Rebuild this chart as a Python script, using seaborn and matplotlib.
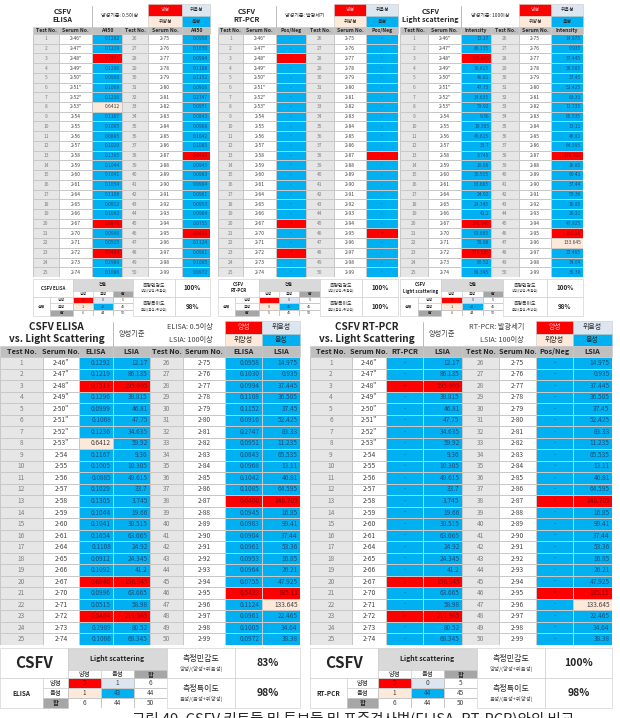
import numpy as np
import seaborn as sns
import matplotlib
matplotlib.use("Agg")
import matplotlib.pyplot as plt
from matplotlib.colors import ListedColormap
from matplotlib.patches import Rectangle

# ---- data ----
test_no_1 = list(range(1, 26))
test_no_2 = list(range(26, 51))
serum_1 = ['2-46"', '2-47"', '2-48"', '2-49"', '2-50"', '2-51"', '2-52"', '2-53"',
           '2-54', '2-55', '2-56', '2-57', '2-58', '2-59', '2-60', '2-61',
           '2-64', '2-65', '2-66', '2-67', '2-70', '2-71', '2-72', '2-73', '2-74']
serum_2 = ['2-75', '2-76', '2-77', '2-78', '2-79', '2-80', '2-81', '2-82', '2-83',
           '2-84', '2-85', '2-86', '2-87', '2-88', '2-89', '2-90', '2-91', '2-92',
           '2-93', '2-94', '2-95', '2-96', '2-97', '2-98', '2-99']

elisa_1 = [0.1292, 0.1219, 0.7511, 0.1296, 0.0999, 0.1068, 0.1236, 0.6412, 0.1167,
           0.1005, 0.0885, 0.1029, 0.1305, 0.1044, 0.1041, 0.1654, 0.1108, 0.0912,
           0.1092, 0.6846, 0.0996, 0.0515, 0.5464, 0.2989, 0.1086]
elisa_2 = [0.0958, 0.1030, 0.0994, 0.1108, 0.1152, 0.0916, 0.2747, 0.0951, 0.0843,
           0.0968, 0.1042, 0.1085, 0.6400, 0.0945, 0.0983, 0.0904, 0.0961, 0.0953,
           0.0964, 0.0755, 0.5433, 0.1124, 0.0961, 0.1005, 0.0972]
lsia_1 = [12.17, 86.135, 195.665, 38.815, 46.81, 47.75, 34.635, 59.92, 9.36, 10.305,
          49.615, 33.7, 3.745, 19.66, 30.515, 63.665, 24.92, 24.345, 41.2, 156.345,
          63.665, 58.98, 211.585, 80.52, 68.345]
lsia_2 = [14.975, 0.935, 37.445, 36.505, 37.45, 52.425, 83.33, 11.235, 65.535, 13.11,
          46.81, 64.595, 146.705, 16.85, 99.41, 37.44, 53.36, 16.85, 26.21, 47.925,
          185.11, 133.645, 22.465, 34.64, 38.38]

# P = 양성, N = 음성, B = 위양성
elisa_call_1 = "NNPNNNNBNNNNNNNNNNNPNNPNN"
elisa_call_2 = "NNNNNNNNNNNNPNNNNNNNPNNNN"
pcr_call_1 = "NNPNNNNNNNNNNNNNNNNPNNPNN"
pcr_call_2 = "NNNNNNNNNNNNPNNNNNNNPNNNN"
lsia_call_1 = "NNPNNNNNNNNNNNNNNNNPNNPNN"
lsia_call_2 = "NNNNNNNNNNNNPNNNNNNNPBNNN"

sum_elisa = [[5, 0, 5], [1, 44, 45], [6, 44, 50]]
sum_pcr = [[5, 0, 5], [0, 45, 45], [5, 45, 50]]
sum_ls = [[5, 0, 5], [1, 44, 45], [6, 44, 50]]
sum_elisa_ls = [[5, 1, 6], [1, 43, 44], [6, 44, 50]]
sum_pcr_ls = [[5, 0, 5], [1, 44, 45], [6, 44, 50]]
sens_spec = {"elisa": ("100%", "98%"), "pcr": ("100%", "100%"), "ls": ("100%", "98%"),
             "elisa_ls": ("83%", "98%"), "pcr_ls": ("100%", "98%")}

# ---- styling ----
sns.set_style("white")
plt.rcParams['font.family'] = ['Noto Sans CJK KR', 'DejaVu Sans']

PAL = {'W': '#FFFFFF', 'T': '#E6E6E6', 'N': '#00B0F0', 'P': '#FF0000',
       'B': '#FDE9D9', 'L': '#DCE6F1', 'H': '#BFBFBF', 'D': '#A6A6A6'}
TXT = {'N': '#1F4E79', 'P': '#8B0000', 'T': '#7F7F7F'}
KEYS = list(PAL)
CMAP = ListedColormap(list(PAL.values()))
GRID = '#C8C8C8'

W, H = 620, 718
fig = plt.figure(figsize=(6.2, 7.18), dpi=100)
bg = fig.add_axes([0, 0, 1, 1])
bg.set_xlim(0, W)
bg.set_ylim(H, 0)
bg.axis('off')


def px_axes(x0, y0, x1, y1):
    return fig.add_axes([x0 / W, 1 - y1 / H, (x1 - x0) / W, (y1 - y0) / H])


def box(x0, y0, x1, y1, fc='white', text='', fs=4, bold=False, color='#262626', ec=GRID):
    bg.add_patch(Rectangle((x0, y0), x1 - x0, y1 - y0, fc=fc, ec=ec, lw=0.4))
    if text:
        bg.text((x0 + x1) / 2, (y0 + y1) / 2, text, ha='center', va='center', fontsize=fs,
                fontweight='bold' if bold else 'normal', color=color, linespacing=1.25)


def grid(x0, y0, x1, y1, calls, labels, fs, align='center'):
    ax = px_axes(x0, y0, x1, y1)
    codes = np.array([[KEYS.index(c) for c in row] for row in calls])
    sns.heatmap(codes, ax=ax, cmap=CMAP, vmin=-0.5, vmax=len(KEYS) - 0.5, cbar=False,
                annot=np.array(labels, dtype=object), fmt='', annot_kws={'fontsize': fs},
                linewidths=0.4, linecolor=GRID, xticklabels=False, yticklabels=False)
    ncol = codes.shape[1]
    for t in ax.texts:
        x, y = t.get_position()
        c = calls[int(y)][int(x)]
        t.set_color(TXT.get(c, '#404040'))
        if align == 'right':
            t.set_ha('right')
            t.set_x(int(x) + 0.94)
    return ax


def column(x0, x1, y0, y1, calls, labels, fs, align='center'):
    grid(x0, y0, x1, y1, [[c] for c in calls], [[str(v)] for v in labels], fs, align)


def legend(xa, xb, xc, y0, y1, fs):
    ym = (y0 + y1) / 2
    box(xa, y0, xb, ym, PAL['P'], '양성', fs, color='#F6B8B8')
    box(xa, ym, xb, y1, PAL['B'], '위양성', fs)
    box(xb, y0, xc, ym, PAL['L'], '위음성', fs)
    box(xb, ym, xc, y1, PAL['N'], '음성', fs)


def data_table(e, y_head, y_top, y_bot, headers, cols, fs, hfs):
    for k, h in enumerate(headers):
        box(e[k], y_head, e[k + 1], y_top, PAL['H'], h, hfs, bold=True)
    for k, (calls, labels, align) in enumerate(cols):
        column(e[k], e[k + 1], y_top, y_bot, calls, labels, fs, align)


def summary(xs, ys, title, who, counts, sens, spec, fs, tfs, vfs, head='검출'):
    xl, xa, c0, c1, c2, c3, xm, xr = xs
    y0, yh, ysub, y1 = ys
    box(xl, y0, c0, ysub, 'white', title, tfs, bold=True)
    box(c0, y0, c3, yh, '#D9D9D9', head, fs * 1.1, bold=True)
    box(c0, yh, c1, ysub, 'white', '양성', fs)
    box(c1, yh, c2, ysub, 'white', '음성', fs)
    box(c2, yh, c3, ysub, PAL['D'], '합', fs, bold=True)
    box(xl, ysub, xa, y1, 'white', who, fs, bold=True)
    rh = (y1 - ysub) / 3
    for i, lab in enumerate(['양성', '음성', '합']):
        box(xa, ysub + i * rh, c0, ysub + (i + 1) * rh, PAL['D'] if lab == '합' else 'white',
            lab, fs, bold=lab == '합')
    grid(c0, ysub, c3, y1, ['PLW', 'BNW', 'WWW'],
         [[str(v) for v in row] for row in counts], fs)
    for (ya, yb, main, sub, val) in [(y0, ysub, '측정민감도', '양성/(양성+위음성)', sens),
                                     (ysub, y1, '측정특이도', '음성/(음성+위양성)', spec)]:
        box(c3, ya, xm, yb, 'white')
        ymid = (ya + yb) / 2
        bg.text((c3 + xm) / 2, ymid - (yb - ya) * 0.14, main, ha='center', va='center',
                fontsize=fs * 1.25, color='#262626')
        bg.text((c3 + xm) / 2, ymid + (yb - ya) * 0.2, sub, ha='center', va='center',
                fontsize=fs * 0.85, color='#404040')
        box(xm, ya, xr, yb, 'white', val, vfs, bold=True)


def fmt_e(vals):
    return [f"{v:.4f}" for v in vals]


def fmt_l(vals):
    return [f"{v:g}" for v in vals]


def pn(calls):
    return ['+' if c == 'P' else '-' for c in calls]


TT, WW = 'T' * 25, 'W' * 25

# ---- top row: three single-method tables ----
top = [
    ([33, 59, 92, 122, 148, 182, 210], 'CSFV\nELISA', '양성기준: 0.5이상', 'A450',
     (elisa_call_1, fmt_e(elisa_1)), (elisa_call_2, fmt_e(elisa_2)), 'CSFV ELISA', 'elisa', sum_elisa),
    ([218, 243, 276, 306, 334, 366, 398], 'CSFV\nRT-PCR', '양성기준: 발광세기', 'Pos/Neg',
     (pcr_call_1, pn(pcr_call_1)), (pcr_call_2, pn(pcr_call_2)), 'CSFV\nRT-PCR', 'pcr', sum_pcr),
    ([400, 428, 461, 491, 519, 551, 583], 'CSFV\nLight scattering', '양성기준: 100이상', 'Intensity',
     (lsia_call_1, fmt_l(lsia_1)), (lsia_call_2, fmt_l(lsia_2)), 'CSFV\nLight scattering', 'ls', sum_ls),
]
for e, title, crit, vname, left, right, stitle, key, counts in top:
    box(e[0], 4, e[2], 27, 'white', title, 5.2, bold=True, ec='none')
    box(e[2], 4, e[4], 27, 'white', crit, 3.6, ec='none')
    bg.plot([e[2], e[2]], [6, 27], color='#A0A0A0', lw=0.5)
    legend(e[4], e[5], e[6], 4, 27, 3.5)
    al = 'center' if vname == 'Pos/Neg' else 'right'
    data_table(e, 27, 34, 277, ['Test No.', 'Serum No.', vname] * 2,
               [(TT, test_no_1, 'center'), (WW, serum_1, 'center'), (left[0], left[1], al),
                (TT, test_no_2, 'center'), (WW, serum_2, 'center'), (right[0], right[1], al)],
               3.5, 3.7)
    span = e[6] - e[0]
    xs = [e[0], e[0] + span * 0.096, e[0] + span * 0.226, e[0] + span * 0.339,
          e[0] + span * 0.452, e[0] + span * 0.565, e[0] + span * 0.802, e[6]]
    summary(xs, [279, 291, 297, 316], stitle, '실제', counts, *sens_spec[key],
            fs=2.8, tfs=3.2, vfs=4.5)

# ---- bottom row: comparison tables ----
bottom = [
    ([0, 43, 79, 113, 150, 183, 225, 262, 300], 'CSFV ELISA\nvs. Light Scattering',
     'ELISA: 0.5이상', ['Test No.', 'Serum No.', 'ELISA', 'LSIA', 'Test No.', 'Serum No.', 'ELISA', 'LSIA'],
     (elisa_call_1, fmt_e(elisa_1), 'right'), (elisa_call_2, fmt_e(elisa_2), 'right'),
     [0, 43, 68, 101, 134, 167, 235, 300], 'ELISA', 'elisa_ls', sum_elisa_ls),
    ([310, 352, 386, 423, 462, 499, 536, 573, 612], 'CSFV RT-PCR\nvs. Light Scattering',
     'RT-PCR: 발광세기', ['Test No.', 'Serum No.', 'RT-PCR', 'LSIA', 'Test No.', 'Serum No.', 'Pos/Neg', 'LSIA'],
     (pcr_call_1, pn(pcr_call_1), 'center'), (pcr_call_2, pn(pcr_call_2), 'center'),
     [310, 347, 378, 411, 444, 477, 545, 612], 'RT-PCR', 'pcr_ls', sum_pcr_ls),
]
for e, title, crit, heads, m1, m2, xs, who, key, counts in bottom:
    box(e[0], 321, e[3], 346, 'white', title, 7.2, bold=True, ec='none')
    bg.plot([e[3], e[3]], [322, 346], color='#A0A0A0', lw=0.5)
    bg.text(e[3] + 19, 334, '양성기준', ha='center', va='center', fontsize=5.2, color='#404040')
    bg.text(e[6] - 12, 327.5, crit, ha='right', va='center', fontsize=5.2, color='#404040')
    bg.text(e[6] - 12, 340, 'LSIA: 100이상', ha='right', va='center', fontsize=5.2, color='#404040')
    legend(e[6], e[7], e[8], 321, 346, 5)
    data_table(e, 346, 357, 645, heads,
               [(TT, test_no_1, 'center'), (WW, serum_1, 'center'), m1,
                (lsia_call_1, fmt_l(lsia_1), 'right'),
                (TT, test_no_2, 'center'), (WW, serum_2, 'center'), m2,
                (lsia_call_2, fmt_l(lsia_2), 'right')],
               4.7, 5.3)
    summary(xs, [648, 670, 678, 708], 'CSFV', who, counts, *sens_spec[key],
            fs=4.6, tfs=11, vfs=7.5, head='Light scattering')

bg.text(353, 711, '그림 49. CSFV 키트들 및 튜브들 및 표준검사법(ELISA, RT-PCR)와의 비교',
        ha='center', va='top', fontsize=10.5, color='#262626')

fig.savefig("out.png", dpi=100)
